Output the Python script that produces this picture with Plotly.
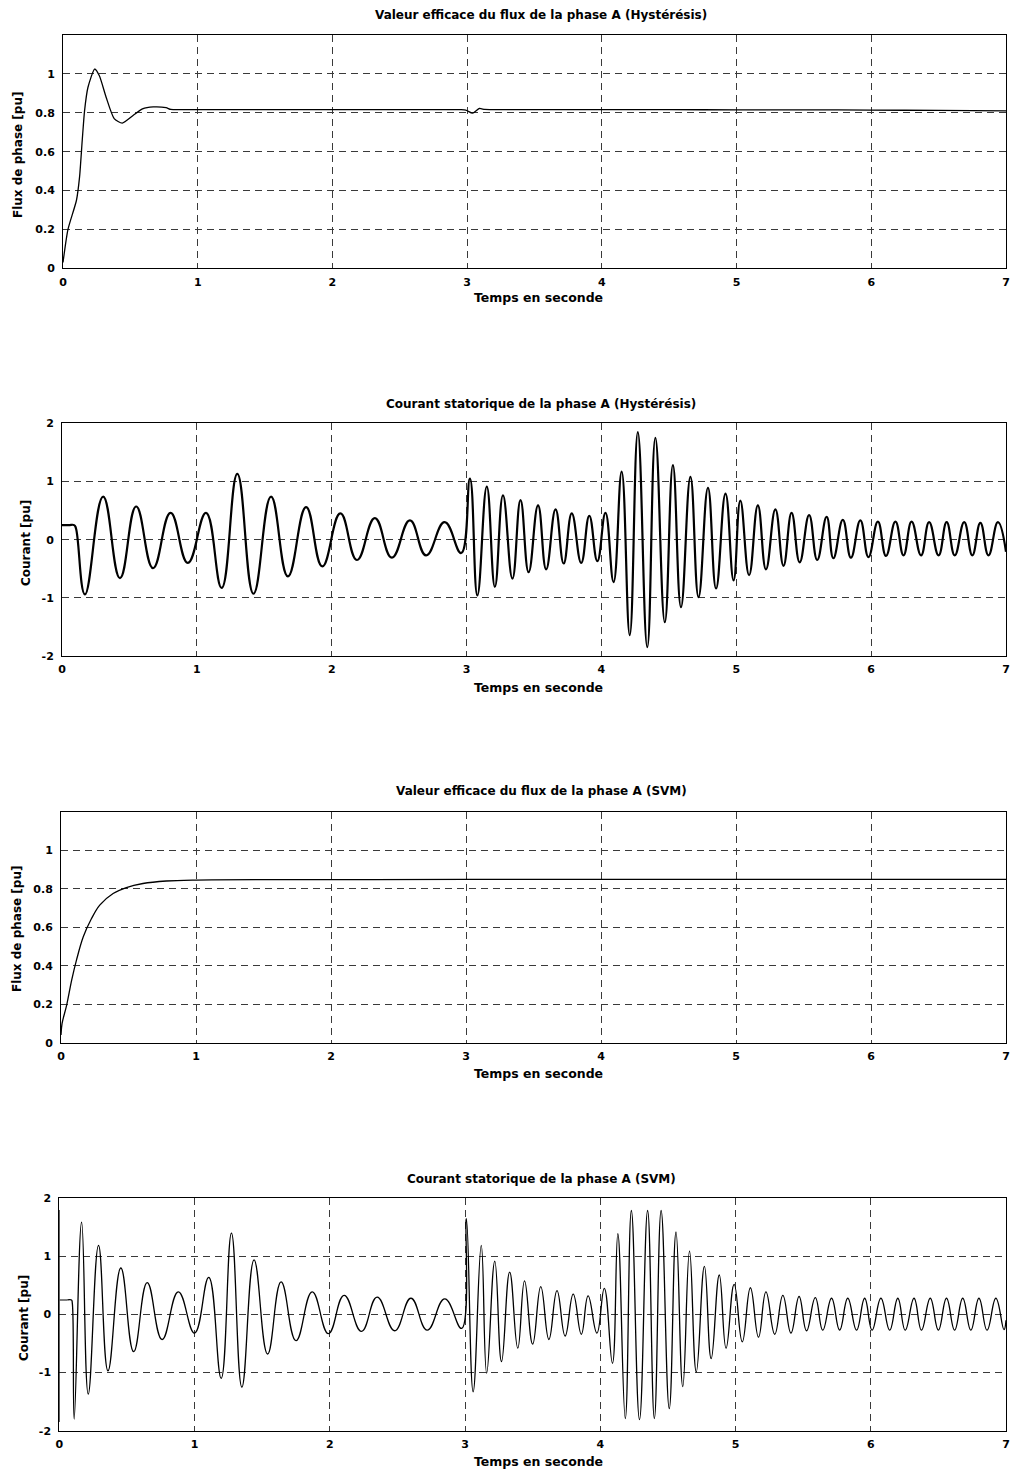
import plotly.graph_objects as go

W, H = 1011, 1469

titles = [
    "Valeur efficace du flux de la phase A (Hystérésis)",
    "Courant statorique de la phase A (Hystérésis)",
    "Valeur efficace du flux de la phase A (SVM)",
    "Courant statorique de la phase A (SVM)",
]
x_label = "Temps en seconde"
y_labels = ["Flux de phase [pu]", "Courant [pu]", "Flux de phase [pu]", "Courant [pu]"]

x_ticks = [0, 1, 2, 3, 4, 5, 6, 7]
flux_ticks = [0, 0.2, 0.4, 0.6, 0.8, 1]
flux_tick_text = ["0", "0.2", "0.4", "0.6", "0.8", "1"]
cur_ticks = [-2, -1, 0, 1, 2]
cur_tick_text = ["-2", "-1", "0", "1", "2"]

# (time [s], value [pu])
flux_hyst_pts = [
    (0, 0.03), (0.037, 0.2), (0.10, 0.35), (0.123, 0.47), (0.143, 0.66), (0.16, 0.81),
    (0.185, 0.93), (0.235, 1.025), (0.27, 0.99), (0.32, 0.88), (0.38, 0.77), (0.44, 0.747),
    (0.52, 0.786), (0.59, 0.82), (0.67, 0.83), (0.765, 0.826), (0.8, 0.817), (0.9, 0.816),
    (1.2, 0.816), (1.6, 0.816), (2.0, 0.816), (2.4, 0.816), (2.8, 0.816), (2.95, 0.816),
    (2.99, 0.814), (3.04, 0.798), (3.09, 0.822), (3.13, 0.817), (3.2, 0.816), (3.6, 0.816),
    (4.0, 0.816), (4.5, 0.816), (5.0, 0.815), (5.5, 0.815), (6.0, 0.814), (6.5, 0.812),
    (7.0, 0.81),
]

cur_hyst_pts = [
    (0, 0.25), (0.05, 0.25), (0.09, 0.25), (0.103, 0.2), (0.17, -0.94), (0.305, 0.74),
    (0.43, -0.66), (0.55, 0.57), (0.675, -0.49), (0.805, 0.46), (0.933, -0.40), (1.068, 0.46),
    (1.184, -0.83), (1.30, 1.13), (1.42, -0.93), (1.55, 0.74), (1.675, -0.63), (1.81, 0.56),
    (1.93, -0.46), (2.064, 0.45), (2.187, -0.35), (2.32, 0.37), (2.446, -0.31), (2.58, 0.33),
    (2.70, -0.27), (2.837, 0.30), (2.96, -0.23), (3.025, 1.05), (3.08, -0.96), (3.15, 0.91),
    (3.21, -0.81), (3.27, 0.76), (3.34, -0.67), (3.40, 0.68), (3.46, -0.56), (3.53, 0.59),
    (3.59, -0.51), (3.66, 0.52), (3.72, -0.41), (3.78, 0.45), (3.85, -0.40), (3.91, 0.41),
    (3.97, -0.37), (4.03, 0.46), (4.09, -0.73), (4.15, 1.17), (4.21, -1.64), (4.27, 1.85),
    (4.34, -1.85), (4.40, 1.75), (4.47, -1.42), (4.53, 1.28), (4.59, -1.16), (4.66, 1.08),
    (4.72, -0.99), (4.79, 0.89), (4.85, -0.84), (4.92, 0.79), (4.98, -0.70), (5.03, 0.67),
    (5.095, -0.61), (5.16, 0.59), (5.22, -0.51), (5.29, 0.52), (5.35, -0.45), (5.41, 0.46),
    (5.47, -0.39), (5.54, 0.42), (5.60, -0.35), (5.67, 0.39), (5.72, -0.32), (5.79, 0.34),
    (5.85, -0.31), (5.92, 0.33), (5.98, -0.30), (6.05, 0.31), (6.11, -0.28), (6.18, 0.31),
    (6.24, -0.27), (6.30, 0.31), (6.37, -0.27), (6.43, 0.30), (6.50, -0.27), (6.56, 0.30),
    (6.62, -0.27), (6.69, 0.30), (6.75, -0.27), (6.81, 0.29), (6.87, -0.27), (6.94, 0.30),
    (7.0, -0.21),
]

flux_svm_pts = [
    (0, 0.04), (0.008, 0.1), (0.042, 0.195), (0.079, 0.325), (0.115, 0.43), (0.165, 0.55),
    (0.226, 0.645), (0.287, 0.715), (0.386, 0.775), (0.484, 0.806), (0.607, 0.827),
    (0.78, 0.84), (1.0, 0.845), (2.0, 0.847), (3.0, 0.848), (7.0, 0.848),
]

cur_svm_start_pts = [(0, -1.85), (0, 1.8), (0, 0.25), (0.06, 0.25)]

cur_svm_pts = [
    (0.06, 0.25), (0.09, 0.25), (0.096, 0.2), (0.11, -1.80), (0.165, 1.59), (0.214, -1.37),
    (0.29, 1.19), (0.36, -0.97), (0.455, 0.80), (0.55, -0.64), (0.65, 0.55), (0.76, -0.43),
    (0.88, 0.39), (1.0, -0.32), (1.105, 0.64), (1.197, -1.10), (1.273, 1.40), (1.35, -1.25),
    (1.44, 0.94), (1.54, -0.68), (1.64, 0.56), (1.75, -0.45), (1.87, 0.39), (1.99, -0.33),
    (2.106, 0.33), (2.234, -0.29), (2.35, 0.30), (2.48, -0.28), (2.60, 0.28), (2.72, -0.27),
    (2.85, 0.27), (2.975, -0.24), (3.01, 1.65), (3.06, -1.33), (3.12, 1.19), (3.16, -1.01),
    (3.22, 0.92), (3.27, -0.81), (3.33, 0.73), (3.39, -0.58), (3.44, 0.58), (3.50, -0.51),
    (3.56, 0.48), (3.62, -0.43), (3.68, 0.41), (3.74, -0.37), (3.80, 0.35), (3.86, -0.34),
    (3.91, 0.32), (3.975, -0.32), (4.03, 0.45), (4.09, -0.84), (4.13, 1.39), (4.185, -1.79),
    (4.23, 1.79), (4.29, -1.81), (4.35, 1.79), (4.40, -1.79), (4.45, 1.79), (4.51, -1.62),
    (4.56, 1.42), (4.61, -1.24), (4.66, 1.09), (4.71, -0.99), (4.77, 0.83), (4.82, -0.76),
    (4.88, 0.68), (4.93, -0.58), (4.99, 0.52), (5.05, -0.47), (5.11, 0.46), (5.17, -0.39),
    (5.225, 0.39), (5.29, -0.34), (5.35, 0.33), (5.41, -0.32), (5.47, 0.31), (5.525, -0.28),
    (5.59, 0.29), (5.645, -0.27), (5.71, 0.28), (5.77, -0.27), (5.83, 0.28), (5.895, -0.27),
    (5.955, 0.28), (6.01, -0.27), (6.075, 0.28), (6.14, -0.27), (6.20, 0.28), (6.255, -0.27),
    (6.32, 0.28), (6.375, -0.27), (6.44, 0.28), (6.50, -0.27), (6.56, 0.28), (6.62, -0.27),
    (6.68, 0.28), (6.74, -0.27), (6.80, 0.28), (6.86, -0.27), (6.925, 0.28), (6.985, -0.26),
    (7.0, -0.1),
]

# plot boxes in pixels: left, top, right, bottom
boxes = [
    (63, 35, 1006, 268.3),
    (62, 423.3, 1006, 656),
    (61, 811.7, 1006, 1042.7),
    (59.3, 1198.3, 1006, 1430.7),
]
title_y = [15, 404, 791, 1179]
xlabel_y = [298, 687, 1073, 1461]
ylabel_x = [18, 26, 17, 24]
ylabel_y = [155, 543, 929, 1318]

FONT = "DejaVu Sans"


def px_x(x):
    return x / W


def px_y(y):
    return 1 - y / H


def unzip(pts):
    return [p[0] for p in pts], [p[1] for p in pts]


fig = go.Figure()

series = [
    (flux_hyst_pts, 1, "spline", 1.3, 0.6),
    (cur_hyst_pts, 2, "spline", 2.2, 1.3),
    (flux_svm_pts, 3, "spline", 1.3, 1.0),
    (cur_svm_start_pts, 4, "linear", 1.2, 1.0),
    (cur_svm_pts, 4, "spline", 1.3, 1.3),
]
for pts, k, shape, lw, sm in series:
    xs, ys = unzip(pts)
    line = dict(color="black", width=lw, shape=shape)
    if shape == "spline":
        line["smoothing"] = sm
    fig.add_trace(go.Scatter(
        x=xs, y=ys, mode="lines", line=line,
        xaxis="x" if k == 1 else f"x{k}",
        yaxis="y" if k == 1 else f"y{k}",
        showlegend=False, hoverinfo="skip",
    ))

grid_kw = dict(showgrid=True, gridcolor="#3a3a3a", gridwidth=1, griddash="7px,5px",
               zeroline=False, showline=True, linecolor="black", linewidth=1, mirror=True,
               ticks="", automargin=False,
               tickfont=dict(family=FONT, size=11, color="black", weight="bold"))

layout = dict(width=W, height=H, margin=dict(l=0, r=0, t=0, b=0),
              paper_bgcolor="white", plot_bgcolor="white", showlegend=False)

for i, (l, t, r, b) in enumerate(boxes):
    k = i + 1
    xname = "xaxis" if k == 1 else f"xaxis{k}"
    yname = "yaxis" if k == 1 else f"yaxis{k}"
    yanchor = "y" if k == 1 else f"y{k}"
    xanchor = "x" if k == 1 else f"x{k}"
    is_flux = k in (1, 3)
    layout[xname] = dict(domain=[px_x(l), px_x(r)], anchor=yanchor, range=[0, 7],
                         tickvals=x_ticks, ticktext=[str(v) for v in x_ticks],
                         ticklabelstandoff=3, **grid_kw)
    layout[yname] = dict(domain=[px_y(b), px_y(t)], anchor=xanchor,
                         range=[0, 1.2] if is_flux else [-2, 2],
                         tickvals=flux_ticks if is_flux else cur_ticks,
                         ticktext=flux_tick_text if is_flux else cur_tick_text,
                         ticklabelstandoff=5, **grid_kw)

annotations = []
for i in range(4):
    annotations.append(dict(text=titles[i], x=px_x(541), y=px_y(title_y[i]), xref="paper",
                            yref="paper", showarrow=False, xanchor="center", yanchor="middle",
                            font=dict(family=FONT, size=12, color="black", weight="bold")))
    annotations.append(dict(text=x_label, x=px_x(538), y=px_y(xlabel_y[i]), xref="paper",
                            yref="paper", showarrow=False, xanchor="center", yanchor="middle",
                            font=dict(family=FONT, size=12.5, color="black", weight="bold")))
    annotations.append(dict(text=y_labels[i], x=px_x(ylabel_x[i]), y=px_y(ylabel_y[i]),
                            xref="paper", yref="paper", showarrow=False, textangle=-90,
                            xanchor="center", yanchor="middle",
                            font=dict(family=FONT, size=12, color="black", weight="bold")))
layout["annotations"] = annotations

fig.update_layout(**layout)
fig.write_html("out.html")
